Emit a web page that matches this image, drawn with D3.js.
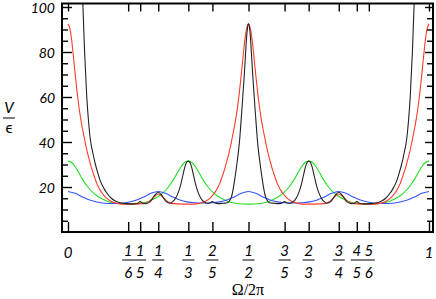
<!DOCTYPE html>
<html>
<head>
<meta charset="utf-8">
<script src="https://cdn.jsdelivr.net/npm/d3@7"></script>
<style>
  body { margin: 0; background: #fff; }
  .lbl { font-family: Lato, "DejaVu Sans", sans-serif; font-style: italic; font-size: 15px; fill: #000; }
  .ylbl { font-size: 14px; }
</style>
</head>
<body>
<div id="chart"></div>
<script>
// set width and height of svg
var svgWidth = 436;
var svgHeight = 299;

// frame of the plot (pixels)
var frame = { left: 62, right: 433, top: 3.5, bottom: 232 };

// tick positions on the frequency axis
var fracTicks = [0, 1/6, 1/5, 1/4, 1/3, 2/5, 1/2, 3/5, 2/3, 3/4, 4/5, 5/6, 1];
var fracNum = ["0", "1", "1", "1", "1", "2", "1", "3", "2", "3", "4", "5", "1"];
var fracDen = ["", "6", "5", "4", "3", "5", "2", "5", "3", "4", "5", "6", ""];

var yMajor = [20, 40, 60, 80, 100];
var yMinor = [5, 10, 15, 25, 30, 35, 45, 50, 55, 65, 70, 75, 85, 90, 95];

// curves: [Omega/2pi, V/eps]
var blackPts = [[0,600],[.01,480],[.02,330],[.03,190],[.036,135],[.041,102],[.046,80],[.052,60],[.057,49],[.062,41],
  [.069,35],[.076,30],[.083,26],[.09,22.5],[.099,19.5],[.108,17.2],[.12,15],[.131,13.8],[.145,13],[.16,12.6],
  [.18,12.5],[.193,12.8],[.2,13.5],[.207,12.8],[.215,12.6],[.228,13.5],[.24,16.3],[.25,17.7],[.26,16.3],[.272,13.5],
  [.283,12.8],[.291,13.6],[.298,15],[.303,16.6],[.308,18.7],[.313,21.5],[.318,25],[.323,28.5],[.328,30.8],[.333,31.5],
  [.338,30.8],[.343,28.5],[.348,25],[.353,21.5],[.358,18.7],[.363,16.6],[.368,15],[.375,13.6],[.385,12.8],[.393,12.9],
  [.4,13.5],[.407,12.9],[.415,12.6],[.43,12.8],[.442,13],[.448,14],[.453,15.7],[.458,19.5],[.462,23.5],[.466,28],
  [.47,33],[.473,37],[.476,42],[.479,48.5],[.482,55],[.485,62],[.488,69],[.491,77],[.494,85],[.497,90.5],[.5,92.5],
  [.503,90.5],[.506,85],[.509,77],[.512,69],[.515,62],[.518,55],[.521,48.5],[.524,42],[.527,37],[.53,33],
  [.534,28],[.538,23.5],[.542,19.5],[.547,15.7],[.552,14],[.558,13],[.57,12.8],[.585,12.6],[.593,12.9],[.6,13.5],
  [.607,12.9],[.615,12.8],[.625,13.6],[.632,15],[.637,16.6],[.642,18.7],[.647,21.5],[.652,25],[.657,28.5],[.662,30.8],
  [.667,31.5],[.672,30.8],[.677,28.5],[.682,25],[.687,21.5],[.692,18.7],[.697,16.6],[.702,15],[.709,13.6],[.717,12.8],
  [.728,13.5],[.74,16.3],[.75,17.7],[.76,16.3],[.772,13.5],[.785,12.6],[.793,12.8],[.8,13.5],[.807,12.8],[.82,12.5],
  [.84,12.6],[.855,13],[.869,13.8],[.88,15],[.892,17.2],[.901,19.5],[.91,22.5],[.917,26],[.924,30],[.931,35],
  [.938,41],[.943,49],[.948,60],[.954,80],[.959,102],[.964,135],[.97,190],[.98,330],[.99,480],[1,600]];

var redPts = [[0,92.5],[.005,90.5],[.01,85.5],[.015,78],[.02,70],[.025,62.5],[.03,56],[.035,50.5],[.04,46],[.045,42],
  [.05,38],[.055,34.5],[.06,31.5],[.065,28.5],[.07,26],[.075,23.7],[.08,21.5],[.085,19.8],[.09,18.4],[.095,17.2],
  [.1,16.2],[.11,14.6],[.12,13.6],[.13,13],[.14,12.6],[.15,12.4],[.18,12.4],[.21,12.6],[.225,13.6],[.24,15.9],
  [.25,16.9],[.26,15.9],[.275,13.6],[.29,12.6],[.32,12.4],[.35,12.4],[.36,12.6],[.37,13],[.38,13.6],[.39,14.6],
  [.4,16.2],[.405,17.2],[.41,18.4],[.415,19.8],[.42,21.5],[.425,23.7],[.43,26],[.435,28.5],[.44,31.5],[.445,34.5],
  [.45,38],[.455,42],[.46,46],[.465,50.5],[.47,56],[.475,62.5],[.48,70],[.485,78],[.49,85.5],[.495,90.5],[.5,92.5],
  [.505,90.5],[.51,85.5],[.515,78],[.52,70],[.525,62.5],[.53,56],[.535,50.5],[.54,46],[.545,42],[.55,38],[.555,34.5],
  [.56,31.5],[.565,28.5],[.57,26],[.575,23.7],[.58,21.5],[.585,19.8],[.59,18.4],[.595,17.2],[.6,16.2],[.61,14.6],
  [.62,13.6],[.63,13],[.64,12.6],[.65,12.4],[.68,12.4],[.71,12.6],[.725,13.6],[.74,15.9],[.75,16.9],[.76,15.9],
  [.775,13.6],[.79,12.6],[.82,12.4],[.85,12.4],[.86,12.6],[.87,13],[.88,13.6],[.89,14.6],[.9,16.2],[.905,17.2],
  [.91,18.4],[.915,19.8],[.92,21.5],[.925,23.7],[.93,26],[.935,28.5],[.94,31.5],[.945,34.5],[.95,38],[.955,42],
  [.96,46],[.965,50.5],[.97,56],[.975,62.5],[.98,70],[.985,78],[.99,85.5],[.995,90.5],[1,92.5]];

var greenPts = [[0,31.5],[.01,30.9],[.02,29],[.03,26.3],[.04,23.5],[.05,21],[.06,19],[.07,17.4],[.08,16.1],[.09,15.1],
  [.1,14.3],[.11,13.6],[.12,13.1],[.135,12.7],[.167,12.4],[.198,12.7],[.213,13.1],[.223,13.6],[.233,14.3],[.243,15.1],
  [.253,16.1],[.263,17.4],[.273,19],[.283,21],[.293,23.5],[.303,26.3],[.313,29],[.323,30.9],[.333,31.5],[.343,30.9],
  [.353,29],[.363,26.3],[.373,23.5],[.383,21],[.393,19],[.403,17.4],[.413,16.1],[.423,15.1],[.433,14.3],[.443,13.6],
  [.453,13.1],[.468,12.7],[.5,12.4],[.532,12.7],[.547,13.1],[.557,13.6],[.567,14.3],[.577,15.1],[.587,16.1],[.597,17.4],
  [.607,19],[.617,21],[.627,23.5],[.637,26.3],[.647,29],[.657,30.9],[.667,31.5],[.677,30.9],[.687,29],[.697,26.3],
  [.707,23.5],[.717,21],[.727,19],[.737,17.4],[.747,16.1],[.757,15.1],[.767,14.3],[.777,13.6],[.787,13.1],[.802,12.7],
  [.833,12.4],[.865,12.7],[.88,13.1],[.89,13.6],[.9,14.3],[.91,15.1],[.92,16.1],[.93,17.4],[.94,19],[.95,21],
  [.96,23.5],[.97,26.3],[.98,29],[.99,30.9],[1,31.5]];

var bluePts = [[0,18],[.02,17.2],[.04,15.6],[.06,14.2],[.08,13.3],[.1,12.8],[.125,12.7],[.15,12.8],[.17,13.3],[.19,14.2],
  [.21,15.6],[.23,17.2],[.25,18],[.27,17.2],[.29,15.6],[.31,14.2],[.33,13.4],[.35,13],[.375,12.9],[.4,13],[.42,13.4],
  [.44,14.2],[.46,15.6],[.48,17.2],[.5,18],[.52,17.2],[.54,15.6],[.56,14.2],[.58,13.4],[.6,13],[.625,12.9],[.65,13],
  [.67,13.4],[.69,14.2],[.71,15.6],[.73,17.2],[.75,18],[.77,17.2],[.79,15.6],[.81,14.2],[.83,13.3],[.85,12.8],
  [.875,12.7],[.9,12.8],[.92,13.3],[.94,14.2],[.96,15.6],[.98,17.2],[1,18]];

var series = [
  { pts: greenPts, color: "#22dd22" },
  { pts: bluePts, color: "#3355ff" },
  { pts: redPts, color: "#ff3b2b" },
  { pts: blackPts, color: "#222222" }
];

var svg = d3.select("#chart")
  .append("svg")
  .attr("width", svgWidth)
  .attr("height", svgHeight);

// scales
var x = d3.scaleLinear().domain([0, 1]).range([68, 429]);
var y = d3.scaleLinear().domain([0, 100]).range([frame.bottom, 7]);

// clip the curves to the frame
svg.append("clipPath").attr("id", "clip")
  .append("rect")
  .attr("x", frame.left).attr("y", frame.top)
  .attr("width", frame.right - frame.left)
  .attr("height", frame.bottom - frame.top);

var line = d3.line()
  .x(d => x(d[0]))
  .y(d => y(d[1]))
  .curve(d3.curveMonotoneX);

svg.append("g").attr("clip-path", "url(#clip)")
  .selectAll("path")
  .data(series)
  .enter()
  .append("path")
  .attr("d", d => line(d.pts))
  .attr("fill", "none")
  .attr("stroke", d => d.color)
  .attr("stroke-width", 1.1);

// axes: ticks point inwards on all four sides
function styleAxis(g) {
  g.select(".domain").remove();
  g.selectAll(".tick line").attr("stroke", "#000").attr("stroke-width", 1.4);
}

svg.append("g")
  .attr("transform", `translate(0, ${frame.bottom})`)
  .call(d3.axisBottom(x).tickValues(fracTicks).tickSize(-10).tickFormat(""))
  .call(styleAxis);

svg.append("g")
  .attr("transform", `translate(0, ${frame.top})`)
  .call(d3.axisTop(x).tickValues(fracTicks).tickSize(-8).tickFormat(""))
  .call(styleAxis);

svg.append("g")
  .attr("transform", `translate(${frame.left}, 0)`)
  .call(d3.axisLeft(y).tickValues(yMinor).tickSize(-6).tickFormat(""))
  .call(styleAxis);

var yAxisLeft = svg.append("g")
  .attr("transform", `translate(${frame.left}, 0)`)
  .call(d3.axisLeft(y).tickValues(yMajor).tickSize(-10).tickPadding(7))
  .call(styleAxis);

yAxisLeft.selectAll("text")
  .attr("class", "lbl ylbl")
  .attr("font-size", null)
  .attr("font-family", null)
  .attr("dy", "0.36em");

svg.append("g")
  .attr("transform", `translate(${frame.right}, 0)`)
  .call(d3.axisRight(y).tickValues(yMinor).tickSize(-6).tickFormat(""))
  .call(styleAxis);

svg.append("g")
  .attr("transform", `translate(${frame.right}, 0)`)
  .call(d3.axisRight(y).tickValues(yMajor).tickSize(-8).tickFormat(""))
  .call(styleAxis);

// frame
svg.append("rect")
  .attr("x", frame.left).attr("y", frame.top)
  .attr("width", frame.right - frame.left)
  .attr("height", frame.bottom - frame.top)
  .attr("fill", "none")
  .attr("stroke", "#000")
  .attr("stroke-width", 2);

// fraction labels under the x axis
var fracG = svg.append("g");
fracTicks.forEach(function(t, i) {
  var cx = x(t);
  if (fracDen[i] === "") {
    fracG.append("text").attr("class", "lbl")
      .attr("x", cx).attr("y", 258)
      .attr("text-anchor", "middle")
      .text(fracNum[i]);
    return;
  }
  fracG.append("text").attr("class", "lbl")
    .attr("x", cx).attr("y", 255.5)
    .attr("text-anchor", "middle")
    .text(fracNum[i]);
  fracG.append("line")
    .attr("x1", cx - 6).attr("x2", cx + 6)
    .attr("y1", 260).attr("y2", 260)
    .attr("stroke", "#000").attr("stroke-width", 1);
  fracG.append("text").attr("class", "lbl")
    .attr("x", cx).attr("y", 277.5)
    .attr("text-anchor", "middle")
    .text(fracDen[i]);
});

// axis titles
svg.append("text")
  .attr("x", 248).attr("y", 295)
  .attr("text-anchor", "middle")
  .attr("font-family", "'Liberation Serif', 'DejaVu Serif', serif")
  .attr("font-size", "16px")
  .text("Ω/2π");

svg.append("text").attr("class", "lbl")
  .attr("x", 9).attr("y", 112.5)
  .attr("text-anchor", "middle")
  .text("V");
svg.append("line")
  .attr("x1", 3).attr("x2", 15)
  .attr("y1", 118).attr("y2", 118)
  .attr("stroke", "#000").attr("stroke-width", 1);
svg.append("text").attr("class", "lbl")
  .attr("x", 9).attr("y", 133)
  .attr("text-anchor", "middle")
  .style("font-style", "normal")
  .text("ϵ");
</script>
</body>
</html>
